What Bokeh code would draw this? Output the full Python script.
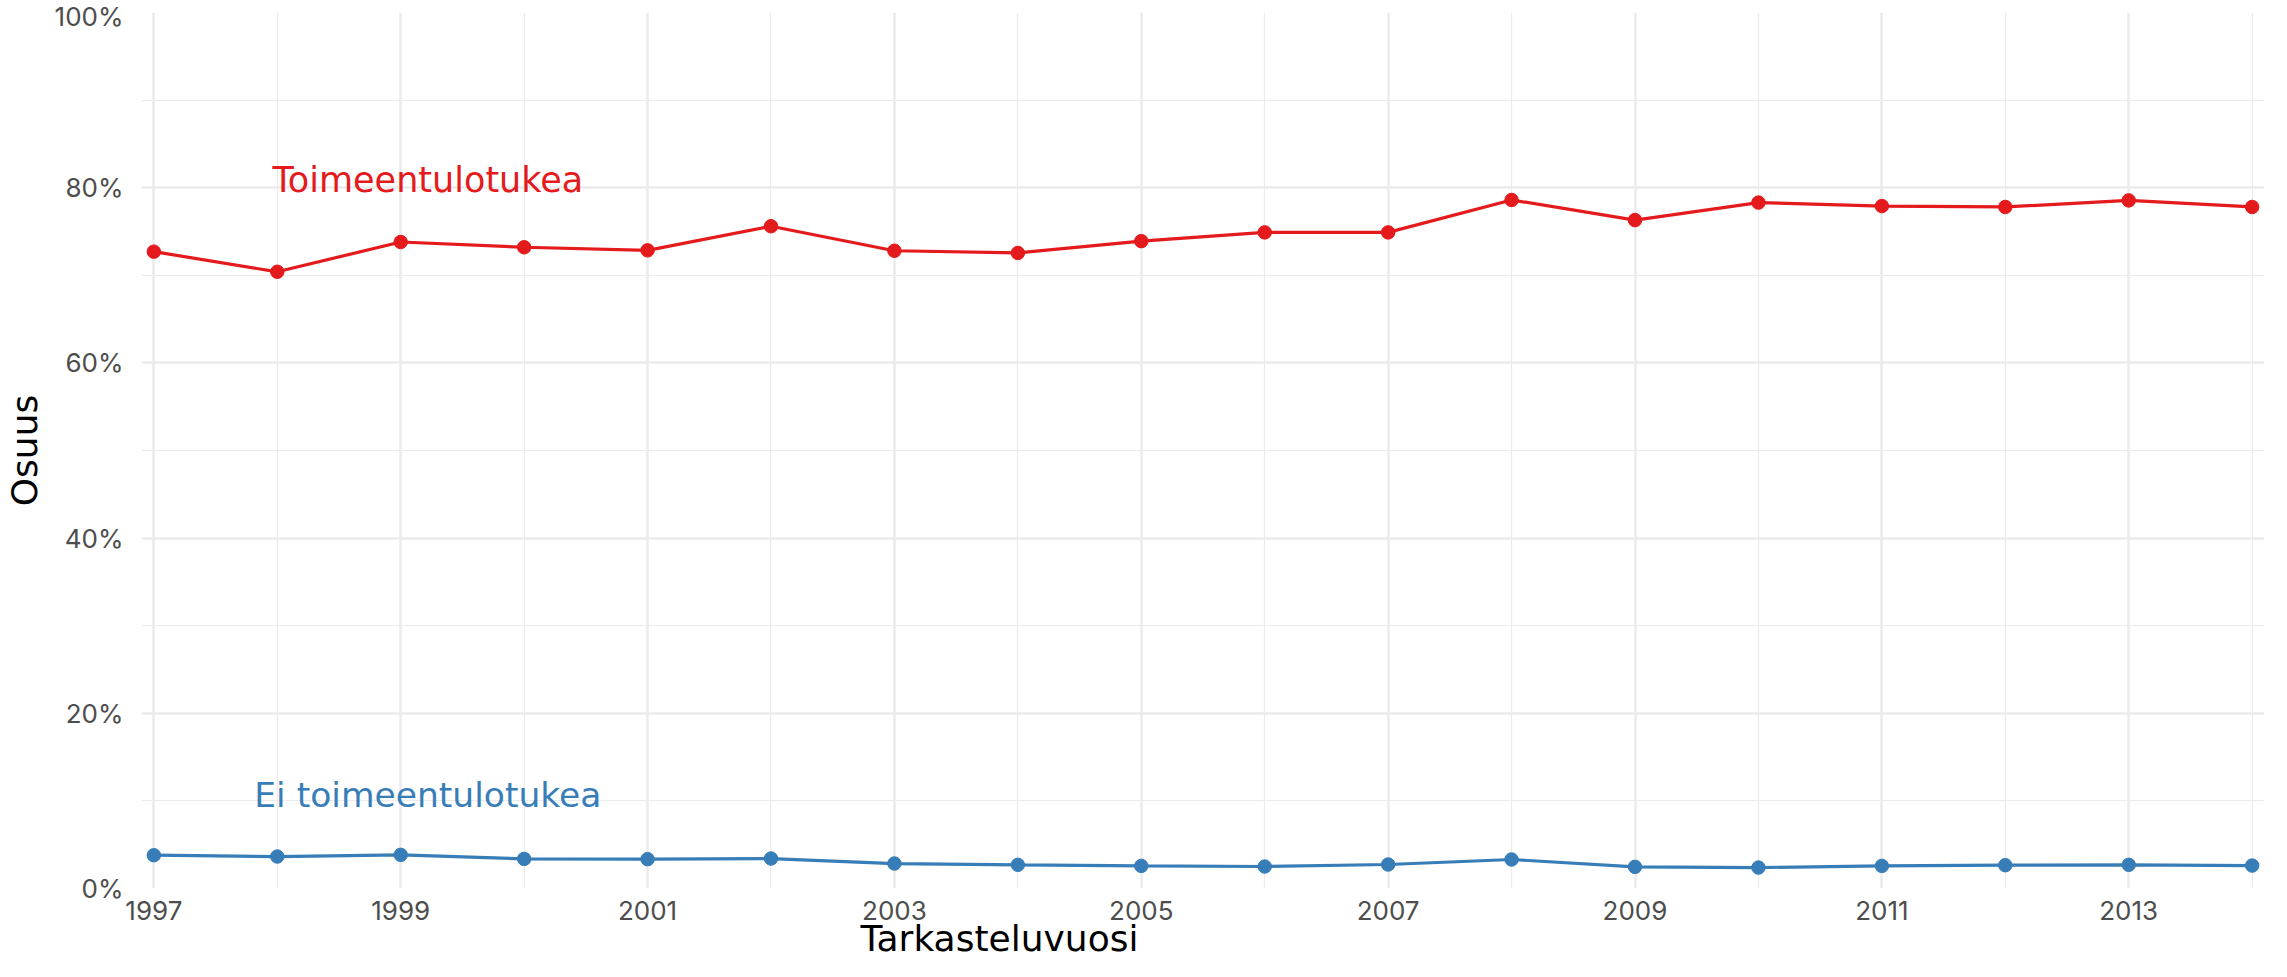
from bokeh.plotting import figure
from bokeh.models import FixedTicker, Range1d, Title
from bokeh.core.properties import value
from bokeh.embed import file_html
from bokeh.resources import INLINE

years = list(range(1997, 2015))
toimeentulotukea = [72.7, 70.4, 73.8, 73.2, 72.85, 75.6, 72.8, 72.55, 73.9, 74.9,
                    74.9, 78.6, 76.3, 78.3, 77.9, 77.8, 78.55, 77.8]
ei_toimeentulotukea = [3.8, 3.65, 3.84, 3.38, 3.35, 3.42, 2.85, 2.70, 2.58, 2.51,
                       2.74, 3.31, 2.47, 2.39, 2.58, 2.66, 2.70, 2.62]
series_names = ["Toimeentulotukea", "Ei toimeentulotukea"]
y_ticks = [0, 20, 40, 60, 80, 100]
y_minor = [10, 30, 50, 70, 90]
x_ticks = [1997, 1999, 2001, 2003, 2005, 2007, 2009, 2011, 2013]
x_minor = [1998, 2000, 2002, 2004, 2006, 2008, 2010, 2012, 2014]
x_title = "Tarkasteluvuosi"
y_title = "Osuus"

RED = "#E41A1C"
BLUE = "#377EB8"
TICK_FONT = "Inter"
TEXT_FONT = "DejaVu Sans"
GRID = "#EBEBEB"

p = figure(width=2271, height=961, output_backend="svg", toolbar_location=None,
           x_range=Range1d(1996.9, 2014.1), y_range=Range1d(0, 100),
           min_border_left=138, min_border_right=7, min_border_top=12,
           min_border_bottom=73)
p.outline_line_color = None
p.background_fill_color = "white"

# axes
p.xaxis.ticker = FixedTicker(ticks=x_ticks, minor_ticks=x_minor)
p.yaxis.ticker = FixedTicker(ticks=y_ticks, minor_ticks=y_minor)
p.yaxis.major_label_overrides = {t: f"{t}%" for t in y_ticks}
p.xaxis.major_label_overrides = {t: str(t) for t in x_ticks}
for ax in (p.xaxis, p.yaxis):
    ax.axis_line_color = None
    ax.major_tick_line_color = None
    ax.minor_tick_line_color = None
    ax.major_tick_in = 0
    ax.major_tick_out = 0
    ax.minor_tick_in = 0
    ax.minor_tick_out = 0
    ax.major_label_text_font = TICK_FONT
    ax.major_label_text_font_size = "26px"
    ax.major_label_text_color = "#4D4D4D"
p.yaxis.major_label_standoff = 18
p.xaxis.major_label_standoff = 12

p.yaxis.axis_label = y_title
p.yaxis.axis_label_text_font = TEXT_FONT
p.yaxis.axis_label_text_font_size = "36px"
p.yaxis.axis_label_text_font_style = "normal"
p.yaxis.axis_label_text_color = "black"
p.yaxis.axis_label_standoff = 7

for g in (p.xgrid, p.ygrid):
    g.grid_line_color = GRID
    g.grid_line_width = 2.5
    g.minor_grid_line_color = GRID
    g.minor_grid_line_width = 1.2

# x-axis title (placed as a below-panel title so it can be shifted)
xt = Title(text=x_title, align="left", offset=719, standoff=-13,
           text_font=TEXT_FONT, text_font_size="36px", text_font_style="normal",
           text_color="black")
p.add_layout(xt, "below")

# series
p.line(years, toimeentulotukea, line_color=RED, line_width=3.2)
p.scatter(years, toimeentulotukea, size=13.5, fill_color=RED, line_color=RED)
p.line(years, ei_toimeentulotukea, line_color=BLUE, line_width=3.2)
p.scatter(years, ei_toimeentulotukea, size=13.5, fill_color=BLUE, line_color=BLUE)

# direct labels
p.text(x=[1999.22], y=[80.9], text=[series_names[0]], text_color=RED,
       text_font=value(TEXT_FONT), text_font_size="35px", text_align="center",
       text_baseline="middle")
p.text(x=[1999.22], y=[10.7], text=[series_names[1]], text_color=BLUE,
       text_font=value(TEXT_FONT), text_font_size="34.5px", text_align="center",
       text_baseline="middle")

open("out.html", "w").write(file_html(p, INLINE))
